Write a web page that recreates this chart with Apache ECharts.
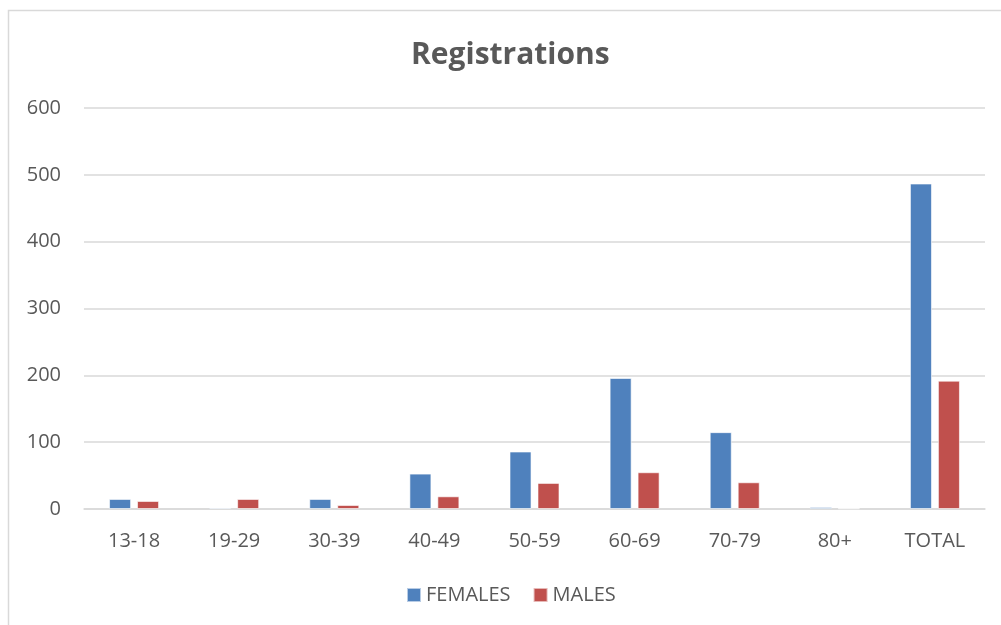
<!DOCTYPE html>
<html>
<head>
<meta charset="utf-8">
<script src="https://cdn.jsdelivr.net/npm/echarts@6/dist/echarts.min.js"></script>
<style>
  html, body { margin: 0; padding: 0; background: #fff; }
  #chart { width: 1001px; height: 625px; }
</style>
</head>
<body>
<div id="chart"></div>
<script>
var categories = ['13-18', '19-29', '30-39', '40-49', '50-59', '60-69', '70-79', '80+', 'TOTAL'];
var females = [15, 2, 15, 53, 86, 196, 115, 3, 487];
var males = [12, 15, 6, 19, 39, 55, 40, 1, 192];
var yTicks = [0, 100, 200, 300, 400, 500, 600];

var chart = echarts.init(document.getElementById('chart'));
var font = '"Open Sans", sans-serif';

var option = {
  backgroundColor: '#fff',
  animation: false,
  title: {
    text: 'Registrations',
    left: 406,
    top: 35,
    textStyle: {
      fontFamily: font,
      fontWeight: 'bold',
      fontSize: 30,
      color: '#595959'
    }
  },
  graphic: [{
    type: 'rect',
    shape: { x: 8.5, y: 10.5, width: 1010, height: 640 },
    style: { fill: 'none', stroke: '#d9d9d9', lineWidth: 1.5 },
    silent: true
  }],
  legend: {
    top: 580,
    left: 401,
    itemWidth: 14,
    itemHeight: 14,
    itemGap: 22,
    icon: 'rect',
    textStyle: { fontFamily: font, fontSize: 20, color: '#595959' },
    data: ['FEMALES', 'MALES']
  },
  grid: {
    left: 84,
    right: 16,
    top: 108,
    bottom: 116,
    containLabel: false
  },
  xAxis: {
    type: 'category',
    data: categories,
    axisLine: { lineStyle: { color: '#d9d9d9', width: 1.5 } },
    axisTick: { show: false },
    axisLabel: {
      margin: 22,
      fontFamily: font,
      fontSize: 20,
      color: '#595959'
    }
  },
  yAxis: {
    type: 'value',
    min: yTicks[0],
    max: yTicks[yTicks.length - 1],
    interval: 100,
    axisLine: { show: false },
    axisTick: { show: false },
    splitLine: { lineStyle: { color: '#d9d9d9', width: 1.5 } },
    axisLabel: {
      margin: 23,
      fontFamily: font,
      fontSize: 20,
      color: '#595959'
    }
  },
  series: [
    {
      name: 'FEMALES',
      type: 'bar',
      data: females,
      barWidth: '22%',
      barGap: '27%',
      itemStyle: { color: '#4F81BD', borderColor: 'rgba(255,255,255,0.6)', borderWidth: 1 }
    },
    {
      name: 'MALES',
      type: 'bar',
      data: males,
      barWidth: '22%',
      barGap: '27%',
      itemStyle: { color: '#C0504D', borderColor: 'rgba(255,255,255,0.6)', borderWidth: 1 }
    }
  ]
};

chart.setOption(option);
</script>
</body>
</html>
